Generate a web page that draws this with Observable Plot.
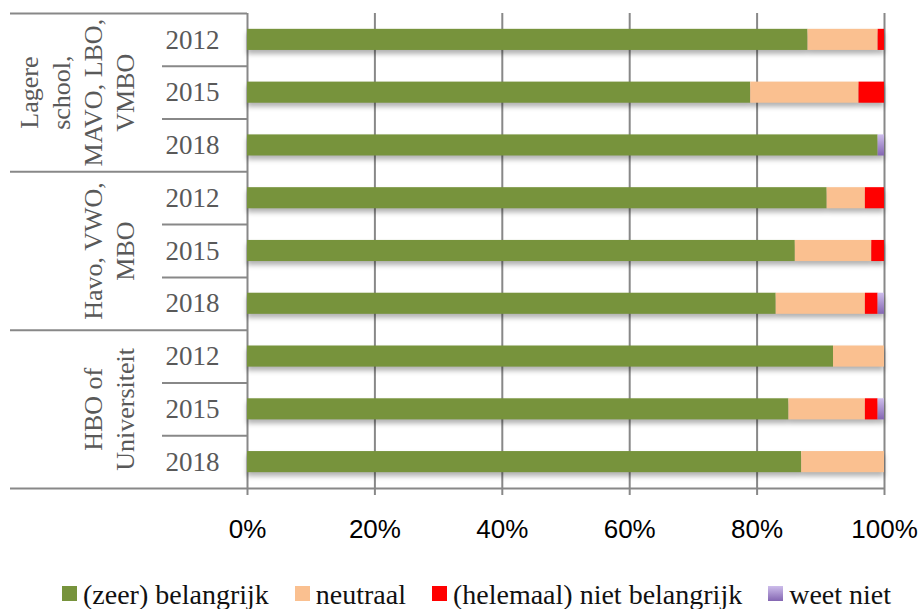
<!DOCTYPE html>
<html><head><meta charset="utf-8">
<script src="https://cdn.jsdelivr.net/npm/d3@7"></script>
<script src="https://cdn.jsdelivr.net/npm/@observablehq/plot@0.6"></script>
<style>
body{margin:0;background:#fff;position:relative;width:921px;height:609px;overflow:hidden}
#chart svg{display:block}
g.bars{filter:drop-shadow(0px 4px 2.5px rgba(0,0,0,0.3))}
#legend{position:absolute;top:581px;left:0;width:921px;padding-left:32px;box-sizing:border-box;display:flex;justify-content:center;font-family:"Liberation Serif",serif;font-size:28px;line-height:1;color:#111;white-space:nowrap}
.item{margin:0 13px}
.sw{display:inline-block;width:15px;height:15px;vertical-align:3px;margin-right:6px}
</style></head><body><div id="chart"></div><div id="legend"></div>
<script>
const groups = ["Lagere\nschool,\nMAVO, LBO,\nVMBO", "Havo, VWO,\nMBO", "HBO of\nUniversiteit"];
const years = ["2012", "2015", "2018"];
const categories = ["(zeer) belangrijk", "neutraal", "(helemaal) niet belangrijk", "weet niet"];
const colors = ["#77933C", "#FAC090", "#FF0000", "url(#purp)"];
const zeer     = [88, 79, 99, 91, 86, 83, 92, 85, 87];
const neutraal = [11, 17,  0,  6, 12, 14,  8, 12, 13];
const niet     = [ 1,  4,  0,  3,  2,  2,  0,  2,  0];
const weet     = [ 0,  0,  1,  0,  0,  1,  0,  1,  0];
const ticks = [0, 20, 40, 60, 80, 100];

const series = [zeer, neutraal, niet, weet];
const rows = zeer.map((_, i) => ({i, g: Math.floor(i / 3), year: years[i % 3]}));
const long = [];
rows.forEach(r => categories.forEach((c, k) => long.push({i: r.i, cat: c, value: series[k][r.i]})));
const groupData = groups.map((label, g) => ({g, label}));

const W = 921, ML = 247, MR = 37;
const unit = (W - ML - MR) / 100;            // px per percent
const tableLeft = -(ML - 10) / unit;          // outer left edge of label table
const yearLeft = -(ML - 162) / unit;          // left edge of year column

const plot = Plot.plot({
  width: W,
  height: 570,
  marginLeft: ML,
  marginRight: MR,
  marginTop: 13,
  marginBottom: 82,
  style: {fontFamily: "Liberation Serif, serif", background: "white", overflow: "visible"},
  x: {domain: [0, 100], axis: null, label: null},
  y: {domain: [0, 9], reverse: true, axis: null, label: null},
  color: {domain: categories, range: colors},
  marks: [
    Plot.ruleX(ticks, {x: d => d, y1: 0, y2: 9, stroke: "#888", strokeWidth: 2}),
    Plot.axisX(ticks, {tickFormat: d => d + "%", tickSize: 7, tickPadding: 24, stroke: "#888", strokeWidth: 2, strokeOpacity: 1,
      fill: "#000", fontSize: 26, fontFamily: "Liberation Sans, Arial, sans-serif", label: null}),
    Plot.ruleY([9], {x1: tableLeft, x2: 100, stroke: "#888", strokeWidth: 2}),
    Plot.ruleY([0, 3, 6], {x1: tableLeft, x2: 0, stroke: "#888", strokeWidth: 2}),
    Plot.ruleY([1, 2, 4, 5, 7, 8], {x1: yearLeft, x2: 0, stroke: "#888", strokeWidth: 2}),
    Plot.rectX(long, Plot.stackX({x: "value", y1: d => d.i + 0.3, y2: d => d.i + 0.7, fill: "cat", className: "bars"})),
    Plot.text(rows, {x: 0, y: d => d.i + 0.5, text: "year", dx: -55, fontSize: 27, fill: "#595959"}),
    Plot.text(groupData, {x: 0, y: d => d.g * 3 + 1.5, text: "label", dx: -114, rotate: -90, lineAnchor: "bottom",
      lineHeight: 1.23, fontSize: 26, fill: "#595959"})
  ]
});

d3.select(plot).insert("defs", ":first-child").html(
  '<linearGradient id="purp" x1="0" y1="0" x2="0" y2="1"><stop offset="0" stop-color="#CDBDEB"/><stop offset="1" stop-color="#8466B2"/></linearGradient>'
);
document.getElementById("chart").appendChild(plot);

const legend = d3.select("#legend");
categories.forEach((c, k) => {
  const item = legend.append("span").attr("class", "item");
  item.append("span").attr("class", "sw").style("background", k === 3 ? "linear-gradient(#CDBDEB,#8466B2)" : colors[k]);
  item.append("span").text(c);
});
</script></body></html>
